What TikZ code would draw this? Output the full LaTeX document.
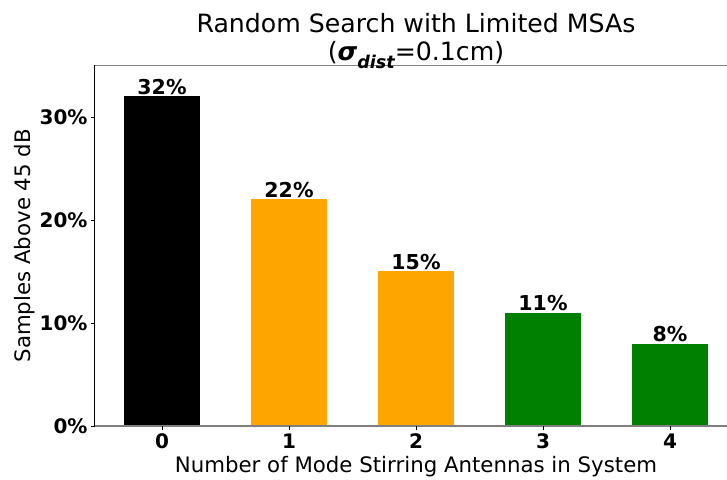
\documentclass[tikz,border=0pt]{standalone}
\usepackage{fontspec}
\setmainfont{DejaVu Sans}
\definecolor{barorange}{HTML}{FFA500}
\definecolor{bargreen}{HTML}{008000}
\definecolor{spinegray}{HTML}{808080}
\tikzset{
  barlabel/.style={anchor=base,inner sep=0pt,yshift=2pt,font=\fontsize{20.5}{24}\selectfont\bfseries},
  ticklabel/.style={inner sep=0pt,font=\fontsize{20}{24}\selectfont\bfseries},
  axislabel/.style={anchor=base,inner sep=0pt,font=\fontsize{21.3}{25}\selectfont},
  titletext/.style={anchor=base,inner sep=0pt,font=\fontsize{25.2}{30}\selectfont},
}

\begin{document}
\begin{tikzpicture}[x=127pt,y=10.3pt]
	\useasboundingbox (-162pt,-53pt) rectangle (565pt,426pt);
	
	\coordinate (ll) at (-0.53,0); \coordinate (ul) at (-0.53,35);
	\coordinate (lr) at (4.45,0); \coordinate (ur) at (4.45,35);
	
	% bars with their values
	\foreach \i/\val/\col in {0/32/black,1/22/barorange,2/15/barorange,3/11/bargreen,4/8/bargreen}{
		\fill[\col] (\i-0.3,0) rectangle (\i+0.3,\val);
		\node[barlabel] (val\i) at (\i,\val) {\val\%};
	}
	
	% spines and ticks
	\draw[spinegray,line width=1.6pt] (ul) -- (ur);
	\draw[spinegray,line width=1.2pt] (ll) -- (lr);
	\draw[line width=0.8pt] (ll) -- (ul);
	\foreach \t in {0,10,20,30}{
		\draw[line width=0.8pt] (-0.53,\t) -- ++(-3.5pt,0) coordinate (yt\t);
		\node[ticklabel,anchor=base east,xshift=-3.5pt,yshift=-7.2pt] (ylab\t) at (yt\t) {\t\%};
	}
	\foreach \i in {0,...,4}{
		\draw[line width=0.8pt] (\i,0) -- ++(0,-3.5pt) coordinate (xt\i);
		\node[ticklabel,anchor=base,yshift=-18.5pt] (xlab\i) at (xt\i) {\i};
	}
	
	% axis labels and title
	\node[axislabel] (xtitle) at ([yshift=-46.5pt]2,0) {Number of Mode Stirring Antennas in System};
	\node[axislabel,rotate=90] (ytitle) at (-1.0315,17.5) {Samples Above 45 dB};
	\node[titletext] (title) at (2,38.25) {Random Search with Limited MSAs};
	\node[titletext] (subtitle) at (2,35.44) {({\bfseries\itshape σ\raisebox{-0.3em}{\fontsize{17.6}{18}\selectfont dist}}=0.1cm)};
\end{tikzpicture}
\end{document}
